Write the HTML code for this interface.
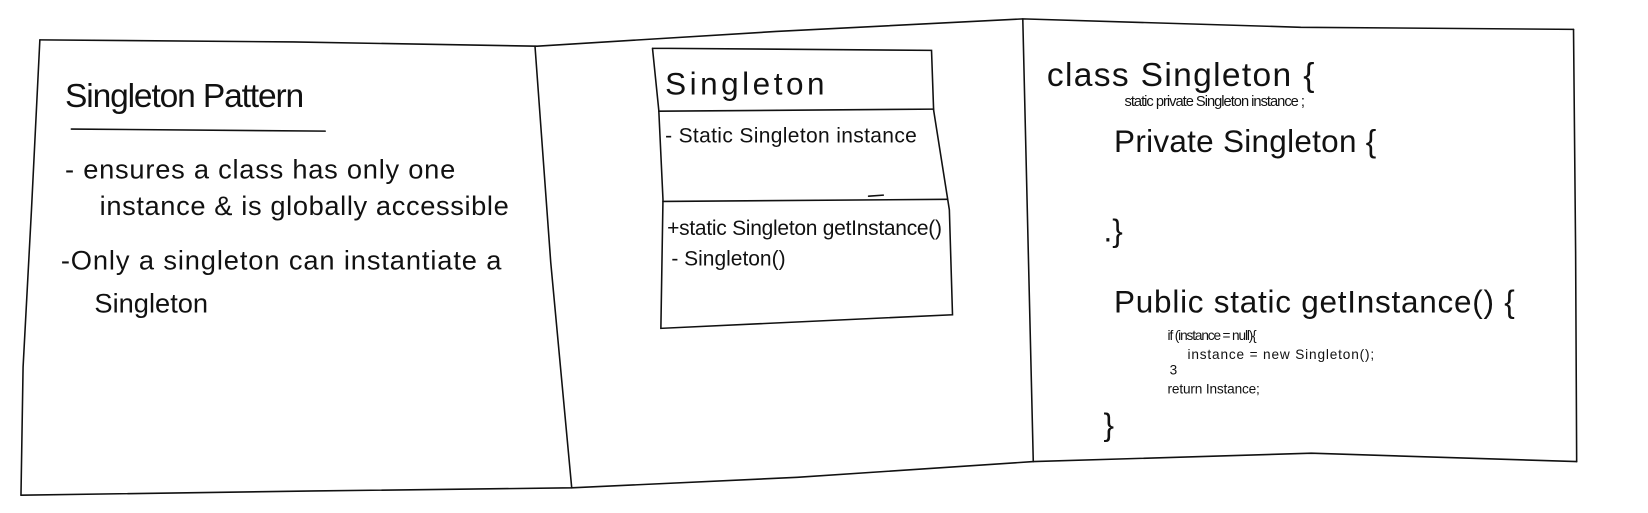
<!DOCTYPE html>
<html><head><meta charset="utf-8"><style>
html,body{margin:0;padding:0;background:#fff;}
svg{display:block}
text{font-family:"Liberation Sans",sans-serif;fill:#111;font-weight:normal}
</style></head><body>
<svg width="1648" height="513" viewBox="0 0 1571 489" preserveAspectRatio="none" xmlns="http://www.w3.org/2000/svg">
<g fill="none" stroke="#111" stroke-width="1.5" stroke-linecap="round">
<polyline points="38,38 280,40 512,44 740,30 975,18 1240,26 1500,28"/>
<polyline points="38,38 30,200 22,350 20,472"/>
<polyline points="20,472 300,468 545,465 760,455 985,440 1250,432 1503,440"/>
<polyline points="510,44 525,250 545,465"/>
<polyline points="975,18 980,230 985,440"/>
<polyline points="1500,28 1502,240 1503,440"/>
<line x1="68" y1="123" x2="310" y2="125"/>
<polyline points="622,46 888,48 890,105 905,200 908,300 630,313 632,190 628,105 622,46"/>
<line x1="628" y1="106" x2="890" y2="104"/>
<line x1="632" y1="192" x2="903" y2="190"/>
<line x1="828" y1="187" x2="842" y2="186"/>
</g>
<g font-size="30">
<text x="62" y="102" font-size="32" textLength="228">Singleton Pattern</text>
<text x="62" y="170" font-size="26" textLength="372">- ensures a class has only one</text>
<text x="95" y="205" font-size="26" textLength="390">instance &amp; is globally accessible</text>
<text x="58" y="257" font-size="26" textLength="420">-Only a singleton can instantiate a</text>
<text x="90" y="298" font-size="26">Singleton</text>
<text x="634" y="90" font-size="30" textLength="152">Singleton</text>
<text x="634" y="136" font-size="20" textLength="240">- Static Singleton instance</text>
<text x="636" y="224" font-size="20" textLength="262">+static Singleton getInstance()</text>
<text x="640" y="253" font-size="20">- Singleton()</text>
<text x="998" y="82" font-size="32" textLength="255">class Singleton {</text>
<text x="1072" y="101" font-size="14" textLength="172">static private Singleton instance ;</text>
<text x="1062" y="145" font-size="30" textLength="250">Private Singleton {</text>
<text x="1052" y="230" font-size="30">.}</text>
<text x="1062" y="298" font-size="30" textLength="382">Public static getInstance() {</text>
<text x="1113" y="324" font-size="13" textLength="85">if (instance = null){</text>
<text x="1132" y="342" font-size="13" textLength="178">instance = new Singleton();</text>
<text x="1115" y="357" font-size="13">3</text>
<text x="1113" y="375" font-size="13" textLength="88">return Instance;</text>
<text x="1052" y="415" font-size="30">}</text>
</g>
</svg>
</body></html>
